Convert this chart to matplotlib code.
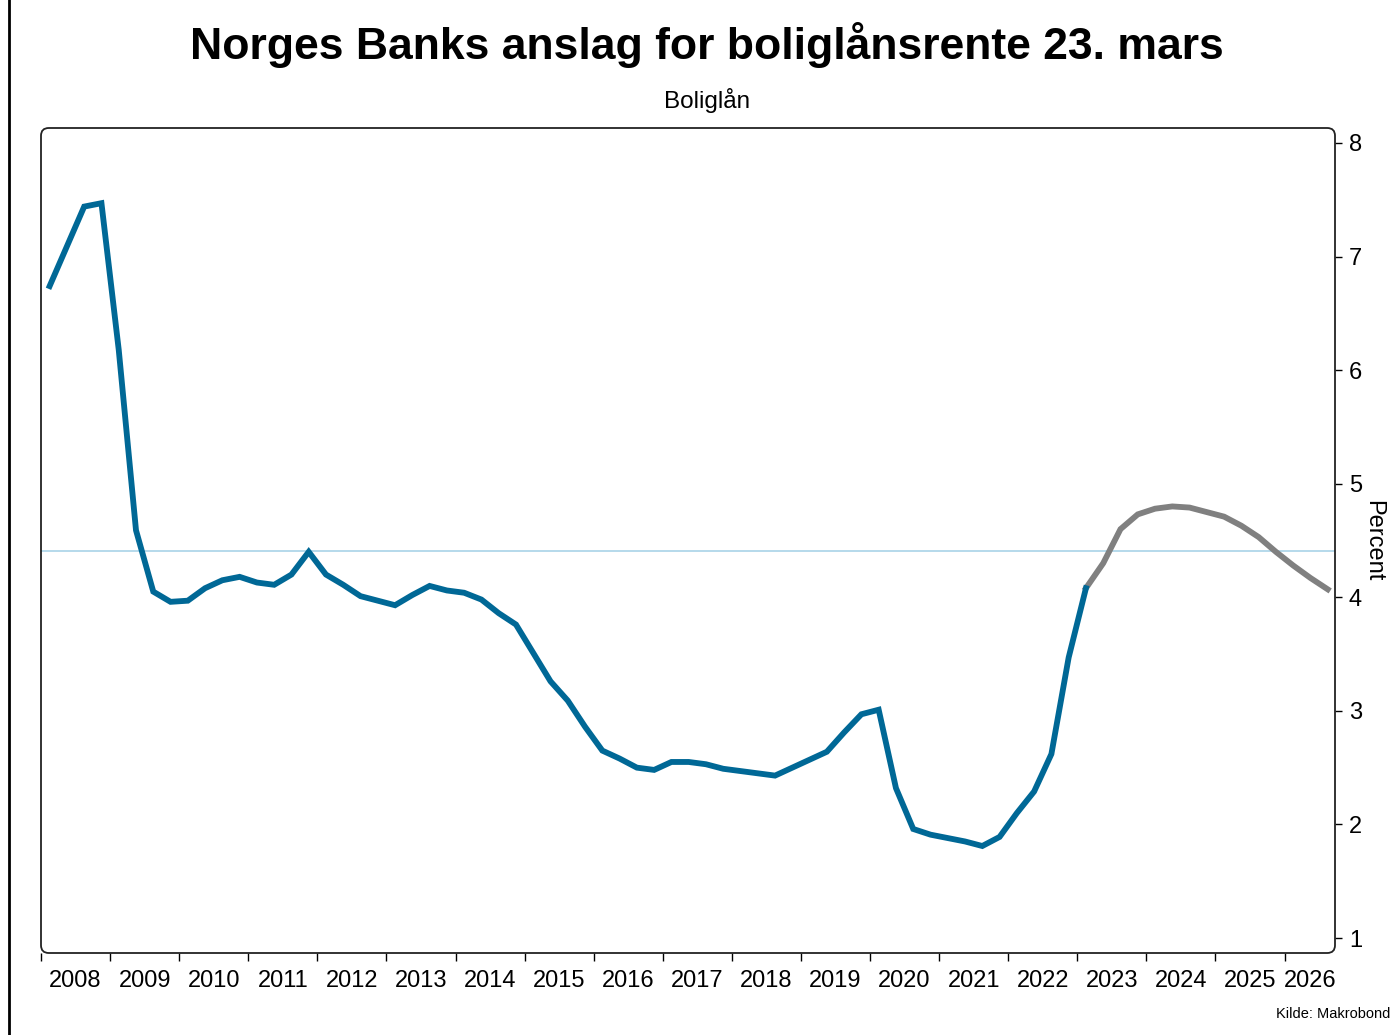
import numpy as np
import matplotlib
matplotlib.use("Agg")
import matplotlib.pyplot as plt
from matplotlib.patches import FancyBboxPatch
from matplotlib.lines import Line2D

plt.rcParams['font.family'] = ['Liberation Sans', 'DejaVu Sans']

# kvartalsvis boliglånsrente, fra 1. kv. 2008 til 1. kv. 2023
historikk = [6.74, 7.09, 7.44, 7.47,
             6.18, 4.59, 4.05, 3.96,
             3.97, 4.08, 4.15, 4.18,
             4.13, 4.11, 4.20, 4.40,
             4.20, 4.11, 4.01, 3.97,
             3.93, 4.02, 4.10, 4.06,
             4.04, 3.98, 3.86, 3.76,
             3.51, 3.26, 3.09, 2.86,
             2.65, 2.58, 2.50, 2.48,
             2.55, 2.55, 2.53, 2.49,
             2.47, 2.45, 2.43, 2.50,
             2.57, 2.64, 2.81, 2.97,
             3.01, 2.32, 1.96, 1.91,
             1.88, 1.85, 1.81, 1.89,
             2.10, 2.29, 2.62, 3.47,
             4.08]
# anslag fra 1. kv. 2023 til 3. kv. 2026
anslag = [4.08, 4.30, 4.60, 4.73,
          4.78, 4.80, 4.79, 4.75,
          4.71, 4.63, 4.53, 4.40,
          4.28, 4.17, 4.07]
gjennomsnitt = 4.41
aar = list(range(2008, 2027))

t_hist = 2008.125 + 0.25 * np.arange(len(historikk))
t_ansl = t_hist[-1] + 0.25 * np.arange(len(anslag))

fig = plt.figure(figsize=(13.96, 10.35), dpi=100)
ax = fig.add_axes([41 / 1396, 1 - 953 / 1035, (1335 - 41) / 1396, (953 - 128) / 1035])

ax.axhline(gjennomsnitt, color='#a9d3e8', lw=1.2, zorder=1)
ax.plot(t_hist, historikk, color='#006896', lw=4.2, solid_joinstyle='miter', zorder=3)
ax.plot(t_ansl, anslag, color='#808080', lw=4.2, solid_joinstyle='miter', zorder=2)

xmax = 2026.73
ax.set_xlim(2008, xmax)
ax.set_ylim(0.868, 8.132)

# ramme med avrundede hjørner
for s in ax.spines.values():
    s.set_visible(False)
ramme = FancyBboxPatch((0, 0), 1, 1, boxstyle='round,pad=0,rounding_size=0.006',
                       transform=ax.transAxes, fill=False, ec='#222222', lw=1.3,
                       clip_on=False, zorder=5, mutation_aspect=1296 / 825)
ax.add_patch(ramme)

ax.yaxis.tick_right()
ax.yaxis.set_label_position('right')
ax.set_yticks(range(1, 9))
ax.tick_params(axis='y', length=5, width=1, pad=5, labelsize=17)
ax.set_ylabel('Percent', rotation=270, fontsize=17, labelpad=16)

ax.set_xticks(aar)
ax.set_xticklabels([])
ax.tick_params(axis='x', which='major', length=6, width=1)
midt = [a + 0.5 for a in aar[:-1]] + [(aar[-1] + xmax) / 2]
ax.set_xticks(midt, minor=True)
ax.set_xticklabels([str(a) for a in aar], minor=True)
ax.tick_params(axis='x', which='minor', length=0, pad=12, labelsize=17)

fig.text(0.5065, 0.957, 'Norges Banks anslag for boliglånsrente 23. mars',
         ha='center', va='center', fontsize=32, fontweight='bold')
fig.text(0.5065, 0.903, 'Boliglån', ha='center', va='center', fontsize=17.5)
fig.text(0.996, 0.02, 'Kilde: Makrobond', ha='right', va='center', fontsize=10.5)
fig.add_artist(Line2D([9 / 1396, 9 / 1396], [0, 1], color='black', lw=2))

fig.savefig('out.png', dpi=100)
